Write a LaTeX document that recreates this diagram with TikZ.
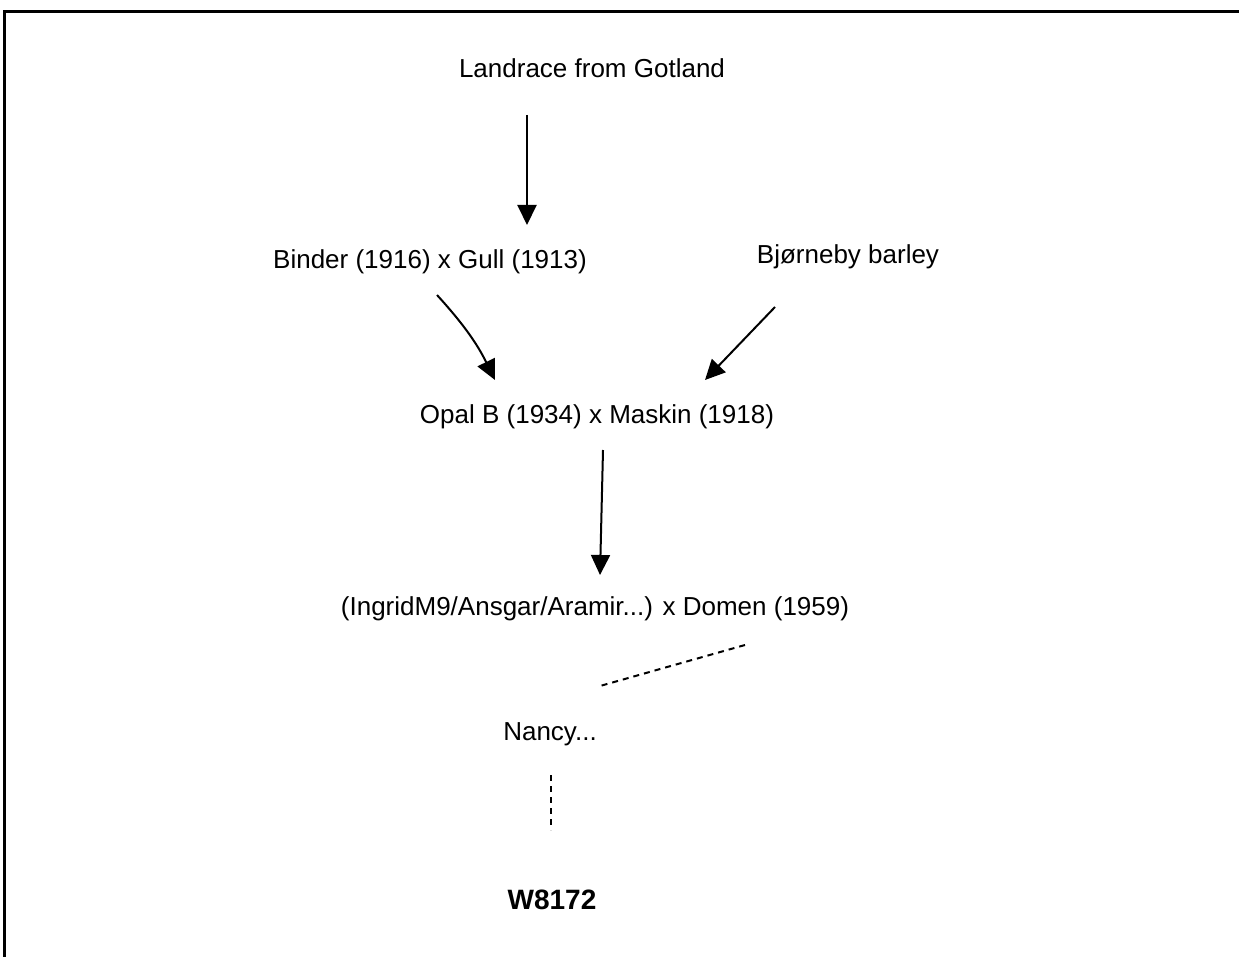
\documentclass[tikz,border=0pt]{standalone}
\usepackage{fontspec}
\setmainfont{Liberation Sans}
\usetikzlibrary{arrows.meta,calc}
\tikzset{
  lbl/.style={inner sep=0pt, font=\fontsize{26}{30}\selectfont},
  arr/.style={line width=2pt, -{Triangle[length=20pt,width=19pt]}},
  dsh/.style={line width=2pt, dash pattern=on 6pt off 5pt},
  frame/.style={line width=3pt}
}
\begin{document}
\begin{tikzpicture}[x=1pt,y=-1pt]
\useasboundingbox (0,0) rectangle (1239,957);
\fill[white] (0,0) rectangle (1239,957);
\draw[frame] (4,970) -- (4,12) -- (1250,12);
\node[lbl] (landrace) at (592,68) {Landrace from Gotland};
\node[lbl] (binder) at (430,262) {Binder (1916) x Gull (1913)};
\node[lbl] (bjorn) at (848,257) {Bjørneby barley};
\node[lbl] (opal) at (597,417) {Opal B (1934) x Maskin (1918)};
\node[lbl] (ingrid) at (595,609) {(IngridM9/Ansgar/Aramir...) x Domen (1959)};
\node[lbl] (nancy) at (550,734) {Nancy...};
\node[lbl, font=\fontsize{28}{32}\selectfont\bfseries] (w) at (552,900) {W8172};
\draw[arr] ($(landrace)+(-65,47)$) -- ($(binder)+(97,-37)$);
\draw[arr] ($(binder)+(7,33)$) to[bend left=8] ($(opal)+(-102,-37)$);
\draw[arr] ($(bjorn)+(-73,50)$) -- ($(opal)+(108,-37)$);
\draw[arr] ($(opal)+(6,33)$) -- ($(ingrid)+(5,-34)$);
\draw[dsh] ($(ingrid)+(150,36)$) -- ($(nancy)+(50,-48)$);
\draw[dsh] ($(nancy)+(1,41)$) -- ($(w)+(-1,-70)$);
\end{tikzpicture}
\end{document}
